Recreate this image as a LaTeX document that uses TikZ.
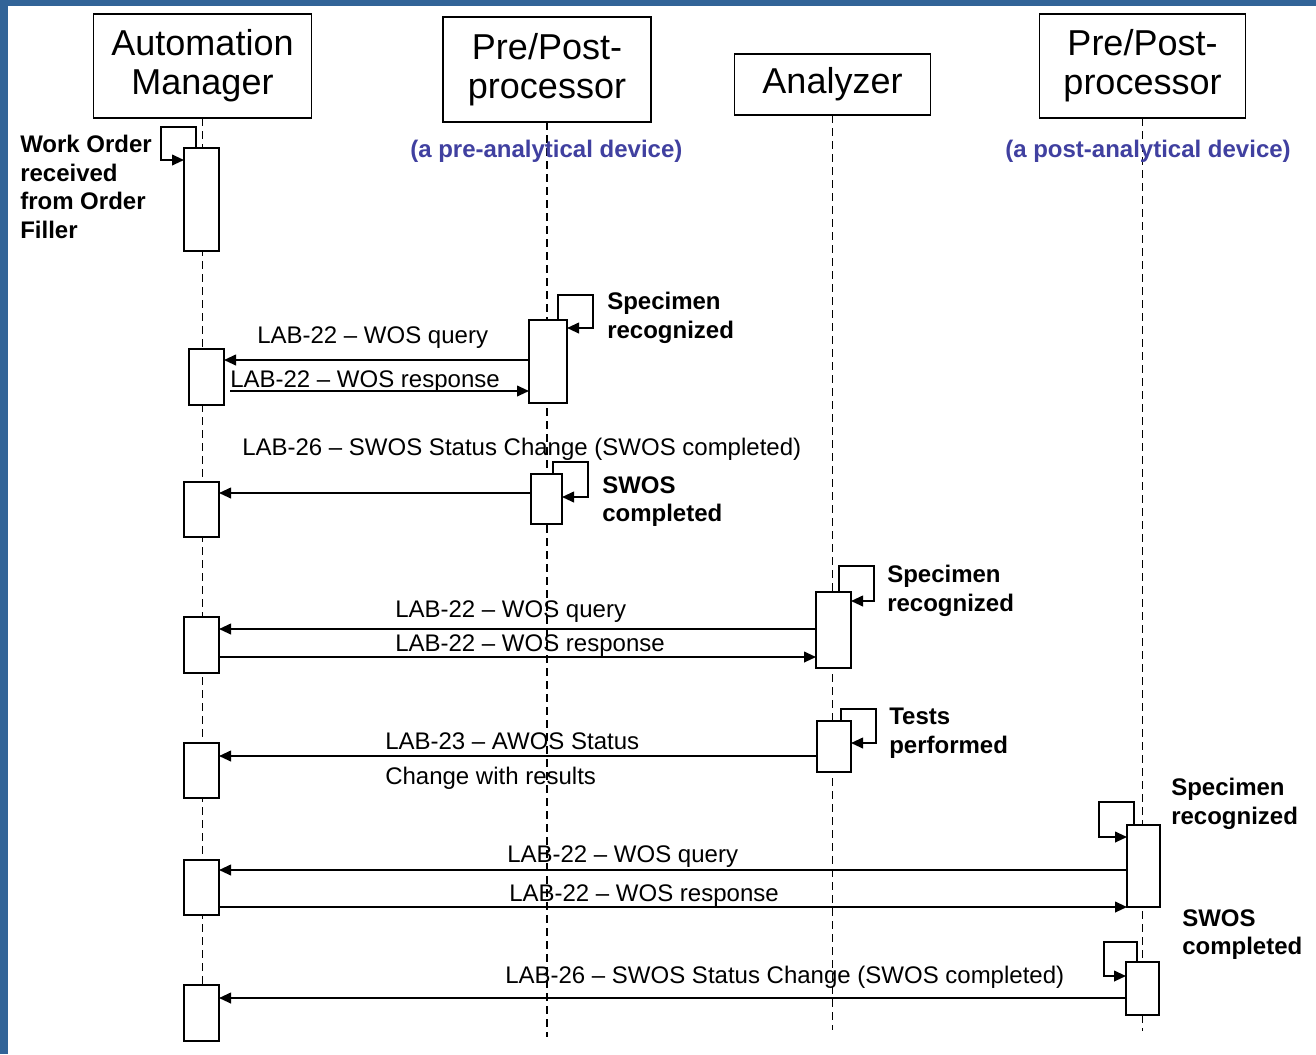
\documentclass[tikz,border=0pt]{standalone}
\usepackage{fontspec}
\setmainfont{Liberation Sans}
\usetikzlibrary{arrows.meta,calc}
\definecolor{frameblue}{RGB}{50,100,152}
\definecolor{labelblue}{RGB}{64,64,160}
\newcommand\actbox[5]{\node[act, minimum width={(#4-#2)*0.75pt}, minimum height={(#5-#3)*0.75pt}] (#1) at ({(#2+#4)/2},{(#3+#5)/2}) {};}
\begin{document}
\begin{tikzpicture}[x=0.75pt,y=-0.75pt,
  hdr/.style={draw, line width=1.4pt, fill=white, align=center, font=\fontsize{27}{29.5}\selectfont, inner sep=0pt, outer sep=0pt},
  act/.style={draw, line width=1.4pt, fill=white, inner sep=0pt, outer sep=0pt},
  life/.style={line width=1.2pt, dash pattern=on 6pt off 3.75pt},
  msg/.style={line width=1.4pt, -{Triangle[length=9pt,width=8pt]}},
  lbl/.style={font=\fontsize{18}{21}\selectfont, inner sep=0pt, anchor=base west},
  note/.style={font=\fontsize{18}{21.5}\selectfont\bfseries, inner sep=0pt, anchor=north west, align=left},
  dev/.style={font=\fontsize{18}{21}\selectfont\bfseries, text=labelblue, inner sep=0pt, anchor=base west}
]
\fill[white] (0,0) rectangle (1316,1054);
\useasboundingbox (0,0) rectangle (1316,1054);
\fill[frameblue] (0,0) rectangle (8,1054);
\fill[frameblue] (0,0) rectangle (1316,6);

% headers
\node[hdr, minimum width={218*0.75pt}, minimum height={104*0.75pt}] (am) at (202.5,66) {Automation\\Manager};
\node[hdr, minimum width={208*0.75pt}, minimum height={105*0.75pt}] (pre) at (547,69.5) {Pre/Post-\\processor};
\node[hdr, minimum width={196*0.75pt}, minimum height={61*0.75pt}] (an) at (832.5,84.5) {Analyzer};
\node[hdr, minimum width={206*0.75pt}, minimum height={104*0.75pt}] (post) at (1142.5,66) {Pre/Post-\\processor};

% lifeline ends
\coordinate (amEnd) at (0,1040);
\coordinate (preEnd) at (0,1037);
\coordinate (anEnd) at (0,1030);
\coordinate (postEnd) at (0,1031);
\draw[life] (am.south) -- (am.south |- amEnd);
\draw[life] (pre.south) -- (pre.south |- preEnd);
\draw[life] (an.south) -- (an.south |- anEnd);
\draw[life] (post.south) -- (post.south |- postEnd);

% device labels
\node[dev] (predev) at (410,157) {(a pre-analytical device)};
\node[dev] (postdev) at (1005,157) {(a post-analytical device)};

% activation boxes
\actbox{a1}{184}{148}{219}{251}
\actbox{a2}{189}{349}{224}{405}
\actbox{a3}{184}{482}{219}{537}
\actbox{a4}{184}{617}{219}{673}
\actbox{a5}{184}{743}{219}{798}
\actbox{a6}{184}{860}{219}{915}
\actbox{a7}{184}{985}{219}{1041}
\actbox{p1}{529}{320}{567}{403}
\actbox{p2}{531}{474}{562}{524}
\actbox{n1}{816}{592}{851}{668}
\actbox{n2}{817}{721}{851}{772}
\actbox{q1}{1127}{825}{1160}{907}
\actbox{q2}{1126}{962}{1159}{1015}

% self loops
\draw[msg] ($(a1.north west)+(12,0)$) -- ++(0,-21) -- ++(-35,0) -- ++(0,33) -- ($(a1.north west)+(0,12)$);
\draw[msg] ($(p1.north west)+(29,0)$) -- ++(0,-25) -- ++(35,0) -- ++(0,33) -- ($(p1.north east)+(0,8)$);
\draw[msg] ($(p2.north west)+(22,0)$) -- ++(0,-12) -- ++(35,0) -- ++(0,35) -- ($(p2.north east)+(0,23)$);
\draw[msg] ($(n1.north west)+(23,0)$) -- ++(0,-26) -- ++(35,0) -- ++(0,35) -- ($(n1.north east)+(0,9)$);
\draw[msg] ($(n2.north west)+(24,0)$) -- ++(0,-12) -- ++(35,0) -- ++(0,34) -- ($(n2.north east)+(0,22)$);
\draw[msg] ($(q1.north west)+(7,0)$) -- ++(0,-23) -- ++(-35,0) -- ++(0,35) -- ($(q1.north west)+(0,12)$);
\draw[msg] ($(q2.north west)+(11,0)$) -- ++(0,-20) -- ++(-33,0) -- ++(0,34) -- ($(q2.north west)+(0,14)$);

% message levels
\coordinate (y1) at (0,360);
\coordinate (y2) at (0,391);
\coordinate (y3) at (0,493);
\coordinate (y4) at (0,629);
\coordinate (y5) at (0,657);
\coordinate (y6) at (0,756);
\coordinate (y7) at (0,870);
\coordinate (y8) at (0,907);
\coordinate (y9) at (0,998);

\draw[msg] (p1.west |- y1) -- (a2.east |- y1);
\draw[msg] ($(a2.east |- y2)+(6,0)$) -- (p1.west |- y2);
\draw[msg] (p2.west |- y3) -- (a3.east |- y3);
\draw[msg] (n1.west |- y4) -- (a4.east |- y4);
\draw[msg] (a4.east |- y5) -- (n1.west |- y5);
\draw[msg] (n2.west |- y6) -- (a5.east |- y6);
\draw[msg] (q1.west |- y7) -- (a6.east |- y7);
\draw[msg] (a6.east |- y8) -- (q1.west |- y8);
\draw[msg] (q2.west |- y9) -- (a7.east |- y9);

% message labels
\node[lbl] (t1) at (257,343) {LAB-22 -- WOS query};
\node[lbl] (t2) at (230,387) {LAB-22 -- WOS response};
\node[lbl] (t3) at (242,455) {LAB-26 -- SWOS Status Change (SWOS completed)};
\node[lbl] (t4) at (395,617) {LAB-22 -- WOS query};
\node[lbl] (t5) at (395,651) {LAB-22 -- WOS response};
\node[lbl] (t6) at (385,749) {LAB-23 -- AWOS Status};
\node[lbl] (t7) at (385,784) {Change with results};
\node[lbl] (t8) at (507,862) {LAB-22 -- WOS query};
\node[lbl] (t9) at (509,901) {LAB-22 -- WOS response};
\node[lbl] (t10) at (505,983) {LAB-26 -- SWOS Status Change (SWOS completed)};

% notes
\node[note] (n0) at (20,135) {Work Order\\received\\from Order\\Filler};
\node[note] (s1) at (607,292) {Specimen\\recognized};
\node[note] (s2) at (602,476) {SWOS\\completed};
\node[note] (s3) at (887,565) {Specimen\\recognized};
\node[note] (s4) at (889,708) {Tests\\performed};
\node[note] (s5) at (1171,778) {Specimen\\recognized};
\node[note] (s6) at (1182,909) {SWOS\\completed};
\end{tikzpicture}
\end{document}
